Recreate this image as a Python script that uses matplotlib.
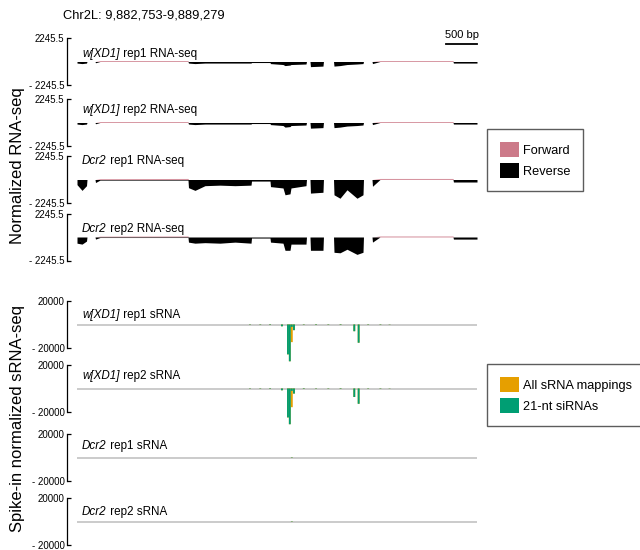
import matplotlib
matplotlib.use("Agg")
import matplotlib.pyplot as plt
import numpy as np
from matplotlib.patches import Patch
from matplotlib.transforms import blended_transform_factory

plt.rcParams['font.family'] = ['Liberation Sans', 'DejaVu Sans']

# ---------------- data ----------------
chrom = "Chr2L"
region_start = 9882753
region_end = 9889279
scale_bar_bp = 500

# RNA-seq coverage profile nodes (bp offset from region start)
rna_nodes = [0, 82, 155, 163, 294, 302, 375, 1811, 1819, 1925, 2088, 2333, 2578,
             2839, 2847, 3149, 3157, 3361, 3394, 3475, 3491, 3736, 3744, 3801,
             3809, 4013, 4021, 4185, 4193, 4291, 4405, 4568, 4666, 4674, 4813,
             4821, 4943, 6134, 6142, 6526]

# reverse-strand coverage (magnitude, plotted downward)
rev_w1 = [150, 200, 150, 0, 0, 120, 0, 0, 150, 200, 150, 150, 150, 150, 100,
          100, 200, 290, 390, 340, 290, 240, 0, 0, 490, 440, 0, 0, 440, 390,
          290, 240, 200, 0, 0, 200, 0, 0, 150, 150]
rev_w2 = [150, 200, 150, 0, 0, 120, 0, 0, 150, 200, 150, 150, 150, 150, 100,
          100, 200, 290, 440, 390, 290, 240, 0, 0, 540, 490, 0, 0, 490, 440,
          340, 290, 240, 0, 0, 200, 0, 0, 150, 150]
rev_d1 = [490, 1040, 590, 0, 0, 290, 60, 60, 780, 1040, 590, 540, 590, 540, 150,
          150, 680, 810, 1460, 1370, 810, 590, 0, 0, 1300, 1220, 0, 0, 1460, 1790,
          980, 1790, 1460, 0, 0, 650, 0, 0, 240, 240]
rev_d2 = [590, 680, 390, 0, 0, 200, 50, 50, 490, 590, 540, 590, 490, 590, 100,
          100, 490, 590, 1270, 1270, 680, 680, 0, 0, 1270, 1270, 0, 0, 1460, 1510,
          1170, 1660, 1460, 0, 0, 490, 0, 0, 200, 200]
# forward-strand coverage
fwd_w1 = [0, 0, 0, 0, 0, 0, 90, 90, 0, 0, 0, 0, 0, 0, 0, 0, 0, 0, 0, 0, 0, 0, 0,
          0, 0, 0, 0, 0, 0, 0, 0, 0, 0, 0, 0, 0, 90, 90, 0, 0]
fwd_w2 = fwd_w1
fwd_d1 = [0, 0, 0, 0, 0, 0, 80, 100, 0, 0, 0, 0, 0, 0, 0, 0, 0, 0, 0, 0, 0, 0, 0,
          0, 0, 0, 0, 0, 0, 0, 0, 0, 0, 0, 0, 0, 100, 100, 0, 0]
fwd_d2 = fwd_d1

rna_ylim = 2245.5
rna_labels = [("w[XD1]", " rep1 RNA-seq"), ("w[XD1]", " rep2 RNA-seq"),
              ("Dcr2", " rep1 RNA-seq"), ("Dcr2", " rep2 RNA-seq")]

# small RNA (bp offset from region start) and signal
srna_pos = [2822, 2990, 3150, 3344, 3442, 3472, 3505, 3540, 3700, 3900, 4100,
            4300, 4524, 4595, 4750, 4950, 5100]
all_w1 = [300, -300, 400, -1500, -25400, -31300, -15000, -4800, 300, -400, 300,
          400, -5700, -15500, -300, 300, 200]
si_w1 = [300, -300, 400, -1500, -25400, -31300, -2000, -4800, 300, -400, 300,
         400, -5700, -15500, -300, 300, 200]
all_w2 = [300, 300, -400, -1500, -24600, -30400, -15900, -4300, 400, 300, -300,
          400, -7200, -13000, 300, -300, 200]
si_w2 = [300, 300, -400, -1500, -24600, -30400, -2000, -4300, 400, 300, -300,
         400, -7200, -13000, 300, -300, 200]
all_d1 = [0, 0, 0, 0, 0, 0, -300, 0, 0, 0, 0, 0, 0, 0, 0, 0, 0]
si_d1 = [0, 0, 0, 0, 0, 0, -300, 0, 0, 0, 0, 0, 0, 0, 0, 0, 0]
all_d2 = [0, 0, 0, 0, 0, 0, -300, 0, 0, 0, 0, 0, 0, 0, 0, 0, 0]
si_d2 = [0, 0, 0, 0, 0, 0, -300, 0, 0, 0, 0, 0, 0, 0, 0, 0, 0]

srna_ylim = 20000
srna_labels = [("w[XD1]", " rep1 sRNA"), ("w[XD1]", " rep2 sRNA"),
               ("Dcr2", " rep1 sRNA"), ("Dcr2", " rep2 sRNA")]

# ---------------- styles ----------------
c_fwd = "#cc7a89"
c_rev = "#000000"
c_all = "#e69f00"
c_si = "#009e73"

W, H = 640, 550
fig = plt.figure(figsize=(W / 100, H / 100), dpi=100)

def add_px_axes(left, top, width, height):
    return fig.add_axes([left / W, 1 - (top + height) / H, width / W, height / H])

track_tops = [38, 99, 156, 213.5, 301, 365, 434, 498]
track_h = 47
label_y = [54, 109.5, 161, 228.5, 315, 376, 446, 512]

def style_axis(ax, lim):
    ax.set_xlim(region_start, region_end)
    ax.set_ylim(-lim, lim)
    for s in ("top", "right", "bottom"):
        ax.spines[s].set_visible(False)
    ax.spines["left"].set_position(("outward", 7))
    ax.spines["left"].set_linewidth(0.9)
    ax.set_xticks([])
    ax.set_yticks([-lim, lim])
    ax.set_yticklabels([f"- {lim:g}", f"{lim:g}"])
    ax.tick_params(axis="y", direction="in", length=3, width=0.9,
                   labelsize=7, pad=2)
    ax.patch.set_alpha(0)

def add_label(ax_idx, ital, rest):
    t = fig.text(82 / W, 1 - label_y[ax_idx] / H, ital, style="italic",
                 fontsize=8.4, ha="left", va="center")
    axes[ax_idx].annotate(rest, xy=(1, 0), xycoords=t, ha="left", va="bottom",
                          fontsize=8.4)

axes = [add_px_axes(77, t, 400, track_h) for t in track_tops]

x_rna = region_start + np.array(rna_nodes)
rev_sets = [rev_w1, rev_w2, rev_d1, rev_d2]
fwd_sets = [fwd_w1, fwd_w2, fwd_d1, fwd_d2]
for i in range(4):
    ax = axes[i]
    style_axis(ax, rna_ylim)
    ax.fill_between(x_rna, 0, np.array(fwd_sets[i]), color=c_fwd, lw=0,
                    alpha=0.8)
    ax.fill_between(x_rna, 0, -np.array(rev_sets[i]), color=c_rev, lw=0)
    add_label(i, *rna_labels[i])

x_srna = region_start + np.array(srna_pos)
all_sets = [all_w1, all_w2, all_d1, all_d2]
si_sets = [si_w1, si_w2, si_d1, si_d2]
for j in range(4):
    ax = axes[4 + j]
    style_axis(ax, srna_ylim)
    ax.axhline(0, color="#bdbdbd", lw=1.1, zorder=1)
    ax.bar(x_srna, all_sets[j], width=30, color=c_all, lw=0, zorder=2,
           clip_on=False, snap=False)
    ax.bar(x_srna, si_sets[j], width=30, color=c_si, lw=0, zorder=3,
           clip_on=False, snap=False)
    add_label(4 + j, *srna_labels[j])

# scale bar
ax0 = axes[0]
tr = blended_transform_factory(ax0.transData, ax0.transAxes)
ax0.plot([region_end - scale_bar_bp, region_end], [0.872, 0.872], color="black",
         lw=1.3, transform=tr, clip_on=False)
ax0.text(region_end - scale_bar_bp / 2, 1.064, f"{scale_bar_bp} bp", transform=tr,
         ha="center", va="center", fontsize=8)

# title and y labels
fig.text(63 / W, 1 - 16 / H, f"{chrom}: {region_start:,}-{region_end:,}",
         fontsize=9.3, ha="left", va="center")
fig.text(18 / W, 1 - 166 / H, "Normalized RNA-seq", rotation=90, fontsize=12,
         ha="center", va="center")
fig.text(18 / W, 1 - 418.5 / H, "Spike-in normalized sRNA-seq", rotation=90,
         fontsize=12, ha="center", va="center")

# legends
def add_legend(handles, left, top):
    leg = fig.legend(handles=handles, loc="upper left",
                     bbox_to_anchor=(left / W, 1 - top / H), borderaxespad=0,
                     fontsize=9.2, handlelength=1.48, handleheight=1.48,
                     handletextpad=0.35, labelspacing=0.42, borderpad=1.0,
                     fancybox=False, frameon=True)
    leg.get_frame().set_edgecolor("#333333")
    leg.get_frame().set_linewidth(1.0)
    return leg

add_legend([Patch(facecolor=c_fwd, edgecolor="none", label="Forward"),
            Patch(facecolor=c_rev, edgecolor="none", label="Reverse")], 487, 129)
add_legend([Patch(facecolor=c_all, edgecolor="none", label="All sRNA mappings"),
            Patch(facecolor=c_si, edgecolor="none", label="21-nt siRNAs")], 487, 364)

fig.savefig("out.png", dpi=100)
